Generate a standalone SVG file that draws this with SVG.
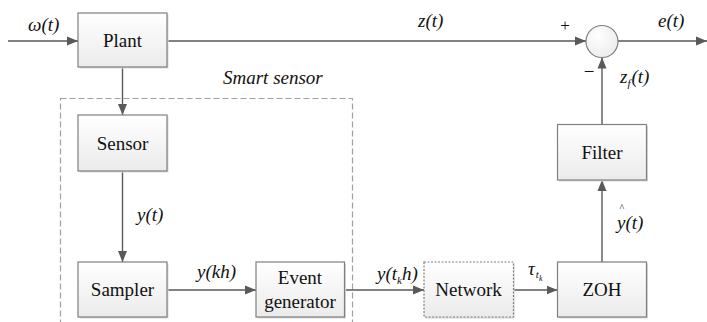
<svg xmlns="http://www.w3.org/2000/svg" width="707" height="322" viewBox="0 0 707 322">
<style>
text{font-family:"Times New Roman","Liberation Serif","DejaVu Serif","Noto Serif",Times,serif}
.box{fill:url(#g);stroke:#7f7f7f;stroke-width:1.2}
.sh{fill:#d9d9d9}
.ln{fill:none;stroke:#595959;stroke-width:1.4}
.t{font-size:19px;fill:#111;text-anchor:middle}
.m{font-size:19px;font-style:italic;fill:#111}
.s{font-size:11px;font-style:italic;fill:#111}
</style>
<defs>
<linearGradient id="g" x1="0" y1="0" x2="0" y2="1">
<stop offset="0" stop-color="#ffffff"/>
<stop offset="1" stop-color="#ebebeb"/>
</linearGradient>
<radialGradient id="rg" cx="0.4" cy="0.35" r="0.7">
<stop offset="0" stop-color="#ffffff"/>
<stop offset="1" stop-color="#ececec"/>
</radialGradient>
<marker id="a" markerUnits="userSpaceOnUse" markerWidth="12" markerHeight="10" refX="11" refY="5" orient="auto">
<path d="M0,0.5 L11,5 L0,9.5 Z" fill="#595959"/>
</marker>
</defs>

<g id="smart-sensor">
<rect x="60.5" y="98.5" width="292" height="240" fill="none" stroke="#a0a0a0" stroke-width="1.2" stroke-dasharray="6,3"/>
<text class="m" x="223" y="84">Smart sensor</text>
</g>

<g id="connectors">
<path class="ln" d="M8,41 H78" marker-end="url(#a)"/>
<path class="ln" d="M167,41 H586" marker-end="url(#a)"/>
<path class="ln" d="M618,41 H707" marker-end="url(#a)"/>
<path class="ln" d="M122.5,67 V115" marker-end="url(#a)"/>
<path class="ln" d="M122.5,171 V262" marker-end="url(#a)"/>
<path class="ln" d="M167,290 H256" marker-end="url(#a)"/>
<path class="ln" d="M344.5,290 H424" marker-end="url(#a)"/>
<path class="ln" d="M513.5,290 H557.5" marker-end="url(#a)"/>
<path class="ln" d="M602,262 V180" marker-end="url(#a)"/>
<path class="ln" d="M602,124.5 V57.5" marker-end="url(#a)"/>
<text class="m" x="28" y="31">ω(t)</text>
<text class="m" x="418" y="27">z(t)</text>
<text class="t" x="565" y="31" style="font-size:17px">+</text>
<text class="m" x="658" y="27">e(t)</text>
<text class="t" x="589" y="78" style="font-size:19px">−</text>
<text class="m" x="620" y="83">z<tspan class="s" dy="4">f</tspan><tspan dy="-4" dx="1">(t)</tspan></text>
<text class="m" x="137" y="221">y(t)</text>
<text class="m" x="197" y="278">y(kh)</text>
<text class="m" x="377" y="280">y(t<tspan class="s" dy="4">k</tspan><tspan dy="-4">h)</tspan></text>
<text class="m" x="528" y="275">τ<tspan class="s" dy="3" dx="1">t</tspan><tspan class="s" dy="3" style="font-size:8px">k</tspan></text>
<text class="m" x="617" y="229">y(t)</text>
<text class="s" x="619.5" y="211" style="font-style:normal;font-size:10px">^</text>
</g>

<g id="plant">
<rect class="sh" x="79.5" y="14.5" width="89" height="54"/>
<rect class="box" x="78" y="13" width="89" height="54"/>
<text class="t" x="122.5" y="47">Plant</text>
</g>
<g id="sensor">
<rect class="sh" x="79.5" y="116.5" width="89" height="56"/>
<rect class="box" x="78" y="115" width="89" height="56"/>
<text class="t" x="122.5" y="150">Sensor</text>
</g>
<g id="sampler">
<rect class="sh" x="79.5" y="263.5" width="89" height="55"/>
<rect class="box" x="78" y="262" width="89" height="55"/>
<text class="t" x="122.5" y="296">Sampler</text>
</g>
<g id="event-generator">
<rect class="sh" x="257.5" y="263.5" width="88.5" height="55"/>
<rect class="box" x="256" y="262" width="88.5" height="55"/>
<text class="t" x="300" y="284">Event</text>
<text class="t" x="300" y="308">generator</text>
</g>
<g id="network">
<rect class="sh" x="425.5" y="263.5" width="89" height="55"/>
<rect class="box" x="424" y="262" width="89.5" height="55" stroke-dasharray="2,1.5"/>
<text class="t" x="468.5" y="296">Network</text>
</g>
<g id="zoh">
<rect class="sh" x="559" y="263.5" width="89" height="55"/>
<rect class="box" x="557.5" y="262" width="89" height="55"/>
<text class="t" x="602" y="296">ZOH</text>
</g>
<g id="filter">
<rect class="sh" x="559" y="126" width="89" height="55.5"/>
<rect class="box" x="557.5" y="124.5" width="89" height="55.5"/>
<text class="t" x="602" y="159">Filter</text>
</g>
<g id="sum">
<circle cx="602" cy="41.5" r="16" fill="url(#rg)" stroke="#7f7f7f" stroke-width="1.2"/>
</g>
</svg>
